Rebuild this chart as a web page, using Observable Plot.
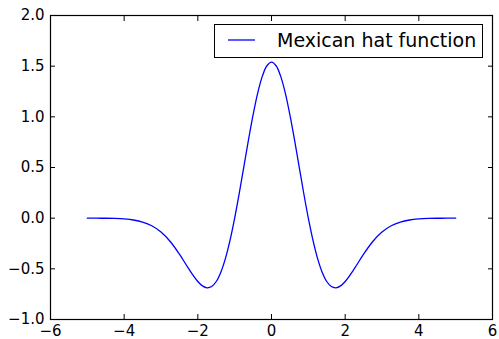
<!DOCTYPE html>
<html><head><meta charset="utf-8">
<script src="https://cdn.jsdelivr.net/npm/d3@7"></script>
<script src="https://cdn.jsdelivr.net/npm/@observablehq/plot@0.6"></script>
<style>
html,body{margin:0;padding:0;background:#fff;}
#chart{position:relative;width:499px;height:339px;font-family:"DejaVu Sans",sans-serif;}
#legend{position:absolute;left:214px;top:24px;width:269px;height:34px;box-sizing:border-box;border:1px solid #000;background:#fff;}
#legend svg{position:absolute;left:0;top:0;overflow:visible;}
</style></head><body><div id="chart"></div>
<script>
const seriesName = "Mexican hat function";
const xValues = [-5,-4.75,-4.5,-4.25,-4,-3.75,-3.5,-3.25,-3,-2.75,-2.5,-2.25,-2,-1.875,-1.75,-1.625,-1.5,-1.375,-1.25,-1.125,-1,-0.875,-0.75,-0.625,-0.5,-0.375,-0.25,-0.125,0,
  0.125,0.25,0.375,0.5,0.625,0.75,0.875,1,1.125,1.25,1.375,1.5,1.625,1.75,1.875,2,2.25,2.5,2.75,3,3.25,3.5,3.75,4,4.25,4.5,4.75,5];
const yValues = [0,-0.0004,-0.001,-0.003,-0.008,-0.018,-0.038,-0.075,-0.137,-0.23,-0.355,-0.498,-0.625,-0.668,-0.687,-0.675,-0.625,-0.533,-0.397,-0.217,0,0.246,0.509,0.772,1.019,1.234,1.399,1.504,1.54,
  1.504,1.399,1.234,1.019,0.772,0.509,0.246,0,-0.217,-0.397,-0.533,-0.625,-0.675,-0.687,-0.668,-0.625,-0.498,-0.355,-0.23,-0.137,-0.075,-0.038,-0.018,-0.008,-0.003,-0.001,-0.0004,0];
const xTicks = [-6,-4,-2,0,2,4,6];
const yTicks = [-1,-0.5,0,0.5,1,1.5,2];

const data = xValues.map((x, i) => ({x, y: yValues[i]}));
const fmtX = d3.format("d");
const fmtY = d3.format(".1f");

const plot = Plot.plot({
  width: 499, height: 339,
  marginLeft: 50, marginRight: 7, marginTop: 15, marginBottom: 20,
  style: {fontFamily: "DejaVu Sans", fontSize: "15px", background: "white", color: "black", overflow: "visible"},
  x: {domain: [-6, 6]},
  y: {domain: [-1, 2]},
  marks: [
    Plot.line(data, {x: "x", y: "y", stroke: "#0000ff", strokeWidth: 1.3, curve: "catmull-rom"}),
    Plot.frame({stroke: "black", strokeWidth: 1.2}),
    Plot.axisX({anchor: "bottom", ticks: xTicks, tickSize: 0, tickPadding: 6, tickFormat: fmtX, label: null}),
    Plot.axisX({anchor: "bottom", ticks: xTicks, tickSize: -5, tickFormat: () => "", label: null}),
    Plot.axisX({anchor: "top", ticks: xTicks, tickSize: -5, tickFormat: () => "", label: null}),
    Plot.axisY({anchor: "left", ticks: yTicks, tickSize: 0, tickPadding: 6, tickFormat: fmtY, label: null}),
    Plot.axisY({anchor: "left", ticks: yTicks, tickSize: -5, tickFormat: () => "", label: null}),
    Plot.axisY({anchor: "right", ticks: yTicks, tickSize: -5, tickFormat: () => "", label: null})
  ]
});
const chart = document.getElementById("chart");
chart.appendChild(plot);

const legend = document.createElement("div");
legend.id = "legend";
legend.innerHTML = `<svg width="269" height="34">
  <line x1="13" x2="40" y1="15" y2="15" stroke="#0000ff" stroke-width="1.3"></line>
  <text x="62" y="21.5" font-family="DejaVu Sans" font-size="19px" fill="#000">${seriesName}</text>
</svg>`;
chart.appendChild(legend);
</script>
</body></html>
